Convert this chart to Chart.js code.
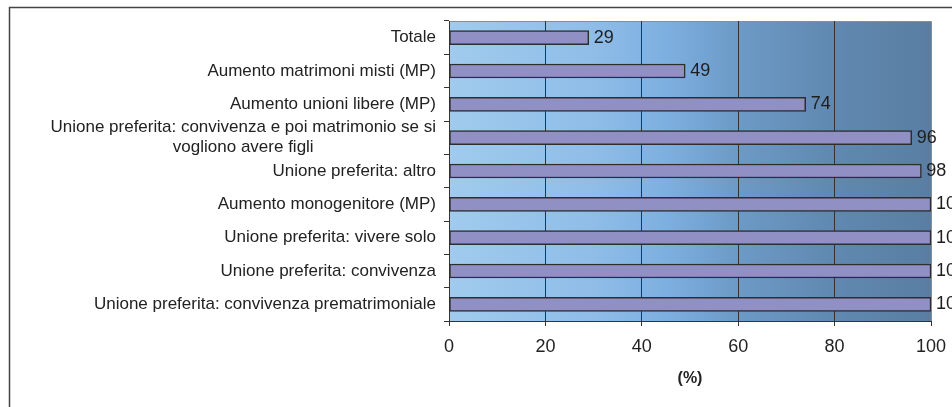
<!DOCTYPE html>
<html>
<head>
<meta charset="utf-8">
<script src="https://cdn.jsdelivr.net/npm/chart.js@4.4.0/dist/chart.umd.min.js"></script>
<style>
  html, body { margin: 0; padding: 0; background: #fff; }
  #wrap { width: 952px; height: 407px; position: relative; }
</style>
</head>
<body>
<div id="wrap"><canvas id="chart" width="952" height="407"></canvas></div>
<script>
// categories, top to bottom
const categories = [
    ['Totale'],
    ['Aumento matrimoni misti (MP)'],
    ['Aumento unioni libere (MP)'],
    ['Unione preferita: convivenza e poi matrimonio se si', 'vogliono avere figli'],
    ['Unione preferita: altro'],
    ['Aumento monogenitore (MP)'],
    ['Unione preferita: vivere solo'],
    ['Unione preferita: convivenza'],
    ['Unione preferita: convivenza prematrimoniale']
];
const values = [29, 49, 74, 96, 98, 100, 100, 100, 100];
const xTicks = [0, 20, 40, 60, 80, 100];
const axisTitle = '(%)';

const FONT = 'Liberation Sans, Arial, sans-serif';

// frame + plot background gradient
const backgroundPlugin = {
    id: 'background',
    beforeDraw(chart) {
        const c = chart.ctx;
        const a = chart.chartArea;
        c.save();
        c.strokeStyle = '#444';
        c.lineWidth = 1.5;
        c.strokeRect(9.5, 7.5, 980, 440);
        const g = c.createLinearGradient(a.left, 0, a.right, 0);
        g.addColorStop(0, '#a0cbee');
        g.addColorStop(0.3, '#8fbde8');
        g.addColorStop(0.45, '#7dafe0');
        g.addColorStop(0.6, '#6c9ac6');
        g.addColorStop(0.8, '#6088b0');
        g.addColorStop(1, '#5a7ea3');
        c.fillStyle = g;
        c.fillRect(a.left, a.top, a.right - a.left, a.bottom - a.top);
        c.strokeStyle = '#8c8c8c';
        c.lineWidth = 1;
        c.beginPath();
        c.moveTo(a.left, a.top + 0.5);
        c.lineTo(a.right + 0.5, a.top + 0.5);
        c.lineTo(a.right + 0.5, a.bottom);
        c.stroke();
        c.restore();
    }
};

// category labels (multi-line centered within the block) and value labels
const labelsPlugin = {
    id: 'labels',
    afterDraw(chart) {
        const c = chart.ctx;
        const y = chart.scales.y;
        c.save();
        c.fillStyle = '#222';
        c.font = '17px ' + FONT;
        c.textBaseline = 'middle';
        c.textAlign = 'center';
        const right = 436;
        const lh = 20;
        categories.forEach((lines, i) => {
            const cy = y.getPixelForValue(i);
            const w = Math.max(...lines.map(l => c.measureText(l).width));
            const cx = right - w / 2;
            const y0 = cy - (lines.length - 1) * lh / 2;
            lines.forEach((l, j) => c.fillText(l, cx, y0 + j * lh));
        });
        c.font = '18px ' + FONT;
        c.textAlign = 'left';
        c.fillStyle = '#1e1e1e';
        chart.getDatasetMeta(0).data.forEach((bar, i) => {
            c.fillText(String(values[i]), bar.x + 5, bar.y);
        });
        c.restore();
    }
};

new Chart(document.getElementById('chart'), {
    type: 'bar',
    data: {
        labels: categories.map(l => l.join(' ')),
        datasets: [{
            data: values,
            backgroundColor: '#9090c4',
            borderColor: '#2e2e2e',
            borderWidth: 1.5,
            borderSkipped: false,
            barThickness: 14
        }]
    },
    options: {
        indexAxis: 'y',
        responsive: false,
        animation: false,
        layout: { padding: { left: 0, top: 21, right: 21, bottom: 0 } },
        plugins: {
            legend: { display: false },
            tooltip: { enabled: false }
        },
        scales: {
            x: {
                min: 0,
                max: 100,
                afterBuildTicks(scale) {
                    scale.ticks = xTicks.map(v => ({ value: v }));
                },
                afterFit(scale) {
                    scale.height = 86;
                    scale.paddingLeft = 0;
                    scale.paddingRight = 0;
                },
                grid: {
                    color: ctx => (ctx.tick && ctx.tick.value === 100) ? 'rgba(0,0,0,0)' : '#333',
                    tickColor: '#333',
                    tickLength: 5,
                    lineWidth: 1
                },
                border: { color: '#333', width: 1 },
                ticks: {
                    color: '#222',
                    font: { family: FONT, size: 18 },
                    padding: 10.5,
                    maxRotation: 0
                },
                title: {
                    display: true,
                    text: axisTitle,
                    color: '#222',
                    font: { family: FONT, size: 16, weight: 'bold' },
                    padding: { top: 0, bottom: 18.4 }
                }
            },
            y: {
                afterFit(scale) {
                    scale.width = 449;
                    scale.paddingTop = 0;
                    scale.paddingBottom = 0;
                },
                grid: {
                    offset: true,
                    drawOnChartArea: false,
                    tickColor: '#333',
                    tickLength: 5
                },
                border: { color: '#333', width: 1 },
                ticks: { display: false }
            }
        }
    },
    plugins: [backgroundPlugin, labelsPlugin]
});
</script>
</body>
</html>
